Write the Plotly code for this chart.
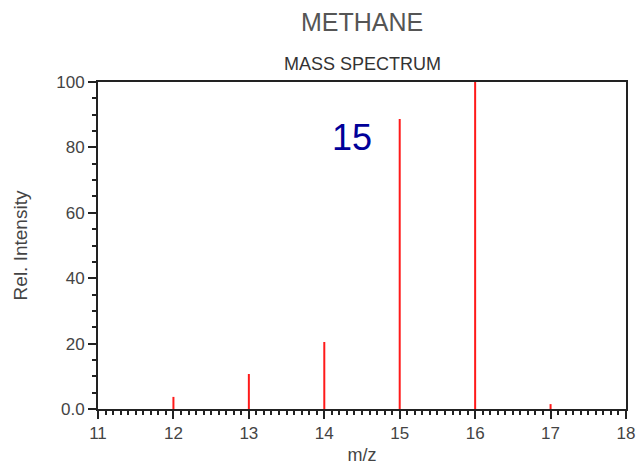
import plotly.graph_objects as go

mz = [12, 13, 14, 15, 16, 17]
intensity = [3.7, 10.7, 20.5, 88.7, 100.0, 1.5]
y_tickvals = [0, 20, 40, 60, 80, 100]
y_ticktext = ["0.0", "20", "40", "60", "80", "100"]
x_tickvals = [11, 12, 13, 14, 15, 16, 17, 18]

xs, ys = [], []
for m, v in zip(mz, intensity):
    xs += [m, m, None]
    ys += [0, v, None]

fig = go.Figure()
fig.add_trace(go.Scatter(x=xs, y=ys, mode="lines",
                         line=dict(color="#ff1a1a", width=2),
                         hoverinfo="skip", showlegend=False))

font = "Liberation Sans, Arial, sans-serif"
fig.update_layout(
    width=637, height=465,
    margin=dict(l=98, r=11, t=82, b=56, autoexpand=False),
    paper_bgcolor="white", plot_bgcolor="white",
    font=dict(family=font, color="#333333", size=16),
    xaxis=dict(range=[11, 18], tickvals=x_tickvals, showline=True, linecolor="#222222",
               linewidth=2, mirror=True, ticks="outside", ticklen=8, tickwidth=2,
               tickcolor="#222222", showgrid=False, zeroline=False, automargin=False,
               tickfont=dict(size=17, color="#444444"),
               minor=dict(dtick=0.1, ticks="outside", ticklen=4, tickwidth=2, tickcolor="#222222", showgrid=False),
               title=dict(text="m/z", font=dict(size=18, color="#444444"), standoff=7)),
    yaxis=dict(range=[0, 100], tickvals=y_tickvals, ticktext=y_ticktext, showline=True,
               linecolor="#222222", linewidth=2, mirror=True, ticks="outside", ticklen=8,
               tickwidth=2, tickcolor="#222222", showgrid=False, zeroline=False, automargin=False,
               tickfont=dict(size=17, color="#444444"),
               minor=dict(dtick=5, ticks="outside", ticklen=4, tickwidth=2, tickcolor="#222222", showgrid=False),
               title=dict(text="Rel. Intensity", font=dict(size=19, color="#444444"), standoff=24)),
    annotations=[
        dict(text="METHANE", x=0.5, y=1, xref="paper", yref="paper", yanchor="bottom", yshift=44,
             showarrow=False, font=dict(size=25, color="#555555")),
        dict(text="MASS SPECTRUM", x=0.5, y=1, xref="paper", yref="paper", yanchor="bottom", yshift=6,
             showarrow=False, font=dict(size=18, color="#333333")),
        dict(text="15", x=14.37, y=83, xref="x", yref="y", showarrow=False,
             font=dict(size=36, color="#000099")),
    ],
)
fig.write_html("out.html")
